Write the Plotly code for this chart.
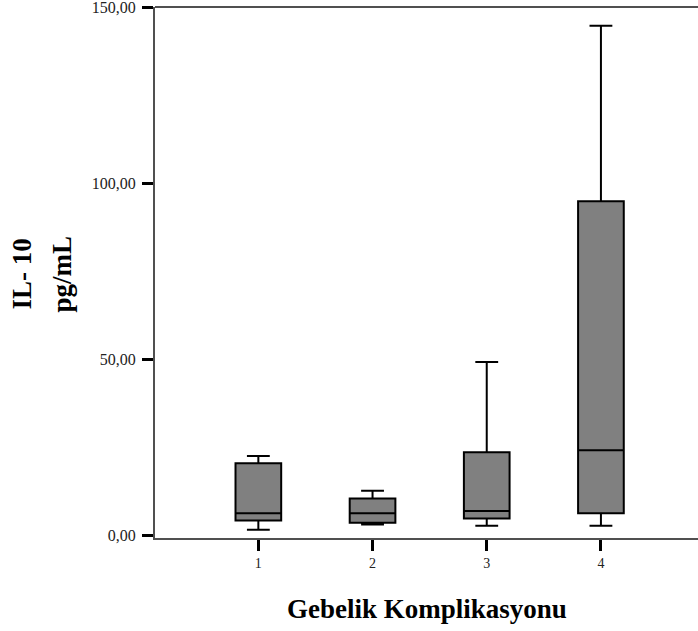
import plotly.graph_objects as go

groups = [1, 2, 3, 4]
group_labels = ["1", "2", "3", "4"]
lower_whisker = [1.5, 3.0, 2.6, 2.6]
q1 = [4.1, 3.5, 4.7, 6.2]
median = [6.2, 6.2, 6.8, 24.1]
q3 = [20.4, 10.4, 23.5, 94.9]
upper_whisker = [22.5, 12.6, 49.2, 144.8]

y_tickvals = [0, 50, 100, 150]
y_ticktext = ["0,00", "50,00", "100,00", "150,00"]

fig = go.Figure()
fig.add_trace(go.Box(
    x=groups,
    q1=q1,
    median=median,
    q3=q3,
    lowerfence=lower_whisker,
    upperfence=upper_whisker,
    boxpoints=False,
    fillcolor="#808080",
    line=dict(color="black", width=2),
    whiskerwidth=0.5,
    width=0.4,
    showlegend=False,
    hoverinfo="skip",
))

serif = "Liberation Serif, Times New Roman, serif"

fig.update_layout(
    width=698, height=631,
    margin=dict(l=155, r=0, t=7, b=93),
    plot_bgcolor="white",
    paper_bgcolor="white",
    font=dict(family=serif, color="#222"),
    xaxis=dict(
        range=[0.095, 4.85],
        tickvals=groups,
        ticktext=group_labels,
        showgrid=False, zeroline=False,
        showline=True, linecolor="#505050", linewidth=2, mirror=False,
        ticks="outside", ticklen=11, tickwidth=3, tickcolor="black",
        tickfont=dict(family=serif, size=14, color="#222"),
    ),
    yaxis=dict(
        range=[-0.85, 150.15],
        tickvals=y_tickvals,
        ticktext=y_ticktext,
        showgrid=False, zeroline=False,
        showline=True, linecolor="#505050", linewidth=2, mirror=False,
        ticks="outside", ticklen=11, tickwidth=3, tickcolor="black",
        ticklabeloverflow="allow", ticklabelstandoff=3,
        tickfont=dict(family=serif, size=16, color="#222"),
    ),
    shapes=[
        dict(type="line", xref="paper", yref="paper", x0=0, x1=1, y0=1, y1=1,
             line=dict(color="#505050", width=2)),
    ],
    annotations=[
        dict(text="<b>Gebelik Komplikasyonu</b>", xref="paper", yref="paper",
             x=0.501, y=-0.1337, xanchor="center", yanchor="middle",
             showarrow=False, font=dict(family=serif, size=27, color="black")),
        dict(text="<b>IL- 10</b>", xref="paper", yref="paper",
             x=-0.244, y=0.497, xanchor="center", yanchor="middle",
             textangle=-90, showarrow=False,
             font=dict(family=serif, size=27, color="black")),
        dict(text="<b>pg/mL</b>", xref="paper", yref="paper",
             x=-0.1703, y=0.497, xanchor="center", yanchor="middle",
             textangle=-90, showarrow=False,
             font=dict(family=serif, size=27, color="black")),
    ],
)

fig.write_html("out.html")
